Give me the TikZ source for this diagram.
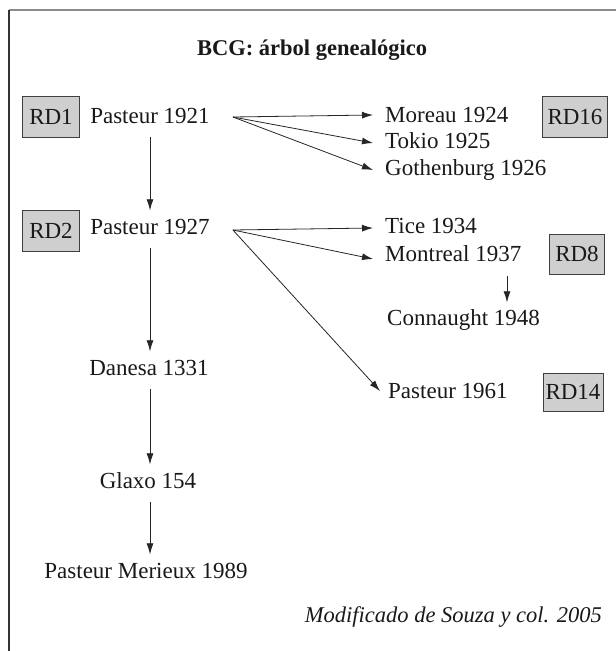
\documentclass[tikz,border=0pt]{standalone}
\usepackage{fontspec}
\setmainfont{Liberation Serif}
\usetikzlibrary{arrows.meta}
\begin{document}
\begin{tikzpicture}[x=1pt,y=-1pt,
  txt/.style={inner sep=0pt, font=\fontsize{23}{26}\selectfont, text height=15pt, text depth=4pt, text=black!90},
  rd/.style={draw=black!75, fill=black!19, line width=0.9pt, minimum width=57pt, minimum height=41pt, inner sep=0pt, font=\fontsize{23}{26}\selectfont, text=black!90},
  arr/.style={-{Latex[length=11pt,width=7pt]}, line width=0.8pt, draw=black!85}
]
\useasboundingbox (0,0) rectangle (616,651);
\fill[white] (0,0) rectangle (616,651);
\draw[black!45, line width=1.2pt] (9,10) -- (616,10);
\draw[black!80, line width=1.2pt] (9,10) -- (9,651);

\node[font=\bfseries\fontsize{22.5}{26}\selectfont, text=black!90] (title) at (312,50) {BCG: árbol genealógico};

% left column
\node[rd] (rd1) at (51,117) {RD1};
\node[rd] (rd2) at (51,231) {RD2};
\node[txt] (p21) at (150,118) {Pasteur 1921};
\node[txt] (p27) at (150,229) {Pasteur 1927};
\node[txt] (dan) at (149,370) {Danesa 1331};
\node[txt] (gla) at (148,483) {Glaxo 154};
\node[txt] (pm) at (146,573) {Pasteur Merieux 1989};

% right column
\node[txt, anchor=west] (mor) at (385,117) {Moreau 1924};
\node[txt, anchor=west] (tok) at (385,143) {Tokio 1925};
\node[txt, anchor=west] (got) at (385,170) {Gothenburg 1926};
\node[rd, minimum width=65pt] (rd16) at (575,117) {RD16};

\node[txt, anchor=west] (tic) at (385,228) {Tice 1934};
\node[txt, anchor=west] (mon) at (385,256) {Montreal 1937};
\node[rd, minimum width=55pt, minimum height=40pt] (rd8) at (577,254) {RD8};
\node[txt, anchor=west] (con) at (387,320) {Connaught 1948};

\node[txt, anchor=west] (p61) at (388,393) {Pasteur 1961};
\node[rd, minimum width=60pt, minimum height=38pt] (rd14) at (573,392) {RD14};

\node[txt, anchor=east, font=\itshape\fontsize{22.5}{26}\selectfont] (src) at (602,617) {Modificado de Souza y col. 2005};

% fan origins
\coordinate (f1) at ([xshift=23pt,yshift=1pt]p21.east);
\coordinate (f2) at ([xshift=23pt,yshift=-1pt]p27.east);

\draw[arr] (f1) -- ([xshift=-12pt,yshift=2pt]mor.west);
\draw[arr] (f1) -- ([xshift=-12pt]tok.west);
\draw[arr] (f1) -- ([xshift=-12pt]got.west);
\draw[arr] (f2) -- ([xshift=-12pt]tic.west);
\draw[arr] (f2) -- ([xshift=-12pt,yshift=-3pt]mon.west);
\draw[arr] (f2) -- ([xshift=-8pt,yshift=2pt]p61.west);

% vertical arrows
\coordinate (v1) at ([yshift=-9pt]p21.south);
\coordinate (v2) at ([yshift=-9pt]p21.south |- p27.south);
\coordinate (v3) at ([yshift=-9pt]p21.south |- dan.south);
\coordinate (v4) at ([yshift=-9pt]p21.south |- gla.south);
\draw[arr] (v1) -- ([yshift=9pt]v1 |- p27.north);
\draw[arr] (v2) -- ([yshift=9pt]v2 |- dan.north);
\draw[arr] (v3) -- ([yshift=9pt]v3 |- gla.north);
\draw[arr] (v4) -- ([yshift=9pt]v4 |- pm.north);
\coordinate (c1) at ([xshift=122pt,yshift=-10pt]mon.south west);
\draw[arr] (c1) -- ([yshift=8pt]c1 |- con.north);
\end{tikzpicture}
\end{document}
